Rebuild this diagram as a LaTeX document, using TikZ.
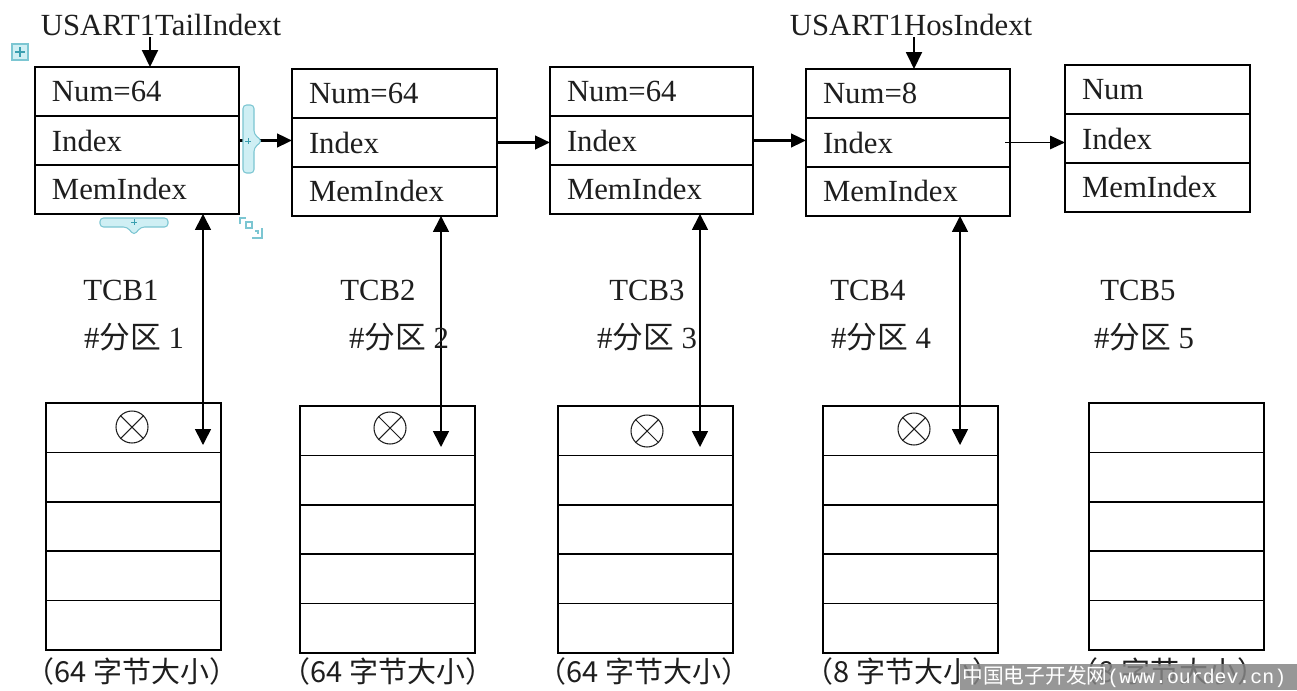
\documentclass[tikz,border=0pt]{standalone}
\usepackage{fontspec}
\setmainfont{Liberation Serif}
\newfontfamily\cjk{Noto Sans CJK SC}
\newfontfamily\monof{Liberation Mono}
\usetikzlibrary{arrows.meta,calc}
\definecolor{ink}{HTML}{1E1E1E}
\definecolor{cyfill}{HTML}{CFEFF4}
\definecolor{cyline}{HTML}{7CC6D2}
\definecolor{cyplus}{HTML}{3A9FB0}
\newcommand\zh[1]{{\cjk #1}}
\newcommand\tcbbox[5]{%
  \pgfmathsetmacro\tcbtw{(#4-34)*0.02}%
  \node[cell, text width=\tcbtw cm, anchor=north west] (#1a) at (#2,#3) {#5};
  \node[cell, text width=\tcbtw cm, anchor=north] (#1b) at (#1a.south) {Index};
  \node[cell, text width=\tcbtw cm, anchor=north] (#1c) at (#1b.south) {MemIndex};}
\newcommand\memblk[3]{%
  \node[mem, anchor=north west] (#1a) at (#2,#3) {};
  \node[mem, anchor=north] (#1b) at (#1a.south) {};
  \node[mem, anchor=north] (#1c) at (#1b.south) {};
  \node[mem, anchor=north] (#1d) at (#1c.south) {};
  \node[mem, anchor=north] (#1e) at (#1d.south) {};}
\newcommand\otimesmark[2]{%
  \node[omark] (#1) at (#2) {};
  \draw[line width=0.6pt, ink] (#1.north west) -- (#1.south east) (#1.north east) -- (#1.south west);}
\begin{document}
\begin{tikzpicture}[x=0.02cm,y=-0.02cm,
  cell/.style={draw, line width=0.9pt, outer sep=0pt, minimum height=0.98cm, inner xsep=0.34cm, inner ysep=0pt,
    align=left, font=\fontsize{17.5}{20}\selectfont, text=ink},
  mem/.style={draw, line width=0.9pt, outer sep=0pt, minimum width=3.5cm, minimum height=0.988cm, inner sep=0pt},
  lbl/.style={inner sep=0pt, font=\fontsize{17.5}{20}\selectfont, text=ink},
  zhlbl/.style={inner sep=0pt, font=\cjk\fontsize{16.5}{20}\selectfont, text=ink},
  harrow/.style={line width=1.6pt, -{Triangle[length=0.3cm,width=0.27cm]}},
  thinarrow/.style={line width=0.8pt, -{Triangle[length=0.3cm,width=0.27cm]}},
  varrow/.style={line width=0.9pt, {Triangle[length=0.32cm,width=0.32cm]}-{Triangle[length=0.32cm,width=0.32cm]}},
  toparrow/.style={line width=1.1pt, -{Triangle[length=0.34cm,width=0.32cm]}},
  omark/.style={circle, draw, line width=0.6pt, ink, minimum size=0.64cm, inner sep=0pt},
  cyshape/.style={draw=cyline, fill=cyfill, line width=0.6pt},
  cyp/.style={draw=cyplus, line width=0.5pt}
]
\useasboundingbox (0,0) rectangle (1297,690);
\fill[white] (0,0) rectangle (1297,690);

% TCB structures
\tcbbox{t1}{35}{67}{204}{Num=64}
\tcbbox{t2}{292}{69}{205}{Num=64}
\tcbbox{t3}{550}{67}{203}{Num=64}
\tcbbox{t4}{806}{69}{204}{Num=8}
\tcbbox{t5}{1065}{65}{185}{Num}

% pointer labels
\node[lbl] (tail) at (161,25) {USART1TailIndext};
\node[lbl] (hos) at (911,25) {USART1HosIndext};
\coordinate (ta) at (150,37);
\coordinate (ha) at (914,37);
\draw[toparrow] (ta) -- (ta |- t1a.north);
\draw[toparrow] (ha) -- (ha |- t4a.north);

% links
\draw[harrow] (t1b.east) -- (t1b.east -| t2b.west);
\draw[harrow] (t2b.east) -- (t2b.east -| t3b.west);
\draw[harrow] (t3b.east) -- (t3b.east -| t4b.west);
\draw[thinarrow] ([xshift=-0.1cm]t4b.east) -- (t4b.east -| t5b.west);

% memory partitions
\memblk{m1}{46}{403}
\memblk{m2}{300}{406}
\memblk{m3}{558}{406}
\memblk{m4}{823}{406}
\memblk{m5}{1089}{403}

\otimesmark{o1}{132,427}
\otimesmark{o2}{390,428}
\otimesmark{o3}{647,431}
\otimesmark{o4}{914,429}

% MemIndex links
\coordinate (v1) at (203,445);
\coordinate (v2) at (441,447);
\coordinate (v3) at (700,447);
\coordinate (v4) at (960,445);
\draw[varrow] (v1 |- t1c.south) -- (v1);
\draw[varrow] (v2 |- t2c.south) -- (v2);
\draw[varrow] (v3 |- t3c.south) -- (v3);
\draw[varrow] (v4 |- t4c.south) -- (v4);

% TCB labels
\node[lbl] (n1) at (121,290) {TCB1};
\node[lbl] (n2) at (378,290) {TCB2};
\node[lbl] (n3) at (647,290) {TCB3};
\node[lbl] (n4) at (868,290) {TCB4};
\node[lbl] (n5) at (1138,290) {TCB5};
\node[lbl] (p1) at (134,337) {\#\zh{分区} 1};
\node[lbl] (p2) at (399,337) {\#\zh{分区} 2};
\node[lbl] (p3) at (647,337) {\#\zh{分区} 3};
\node[lbl] (p4) at (881,337) {\#\zh{分区} 4};
\node[lbl] (p5) at (1144,337) {\#\zh{分区} 5};

% size labels
\node[zhlbl] (s1) at (132,671) {（64 字节大小）};
\node[zhlbl] (s2) at (388,671) {（64 字节大小）};
\node[zhlbl] (s3) at (644,671) {（64 字节大小）};
\node[zhlbl] (s4) at (903,671) {（8 字节大小）};
\node[zhlbl] (s5) at (1168,671) {（8 字节大小）};

% editor handles
\draw[cyshape] (12,44) rectangle (28,60);
\draw[cyp, line width=1pt] (20,47) -- (20,57) (15,52) -- (25,52);
\draw[cyshape, rounded corners=2pt] (243,105) -- (254,105) -- (254,134) -- (262,141) -- (254,148) -- (254,173) -- (243,173) -- cycle;
\draw[cyp] (248,138) -- (248,144) (245,141) -- (251,141);
\draw[cyshape, rounded corners=2pt] (100,218) -- (168,218) -- (168,227) -- (141,227) -- (134,235) -- (127,227) -- (100,227) -- cycle;
\draw[cyp] (134,219) -- (134,225) (131,222) -- (137,222);
\draw[draw=cyline, line width=0.8pt] (240,224) -- (240,218) -- (246,218) (246,222) rectangle (252,228) (262,228) -- (262,238) -- (252,238) (255,231) -- (258,231) -- (258,234);

% watermark
\fill[black!48, opacity=0.85] (960,664) rectangle (1297,690);
\node[inner sep=0pt, text=white, anchor=west] (wm) at (962,677)
  {{\cjk\fontsize{11.8}{13}\selectfont 中国电子开发网}{\monof\fontsize{11.3}{13}\selectfont (www.ourdev.cn)}};
\end{tikzpicture}
\end{document}
